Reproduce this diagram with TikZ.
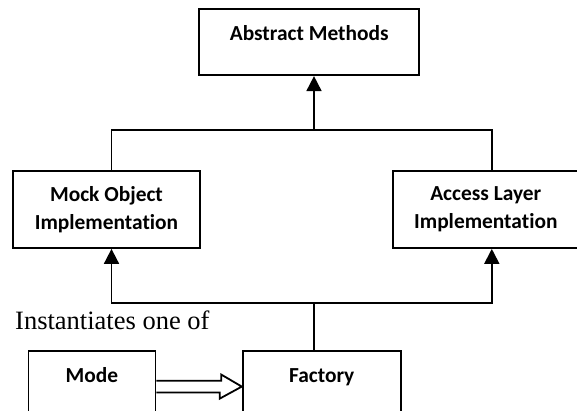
\documentclass[tikz,border=0pt]{standalone}
\usepackage{fontspec}
\setmainfont{Liberation Serif}
\newfontfamily\calibri[Ligatures=NoCommon]{Carlito}
\usetikzlibrary{arrows.meta,positioning,calc}
\tikzset{box/.style={draw,line width=1.8pt,inner sep=0pt,align=center,font=\calibri\bfseries\fontsize{21.4}{28.3}\selectfont},line/.style={line width=1.8pt},arr/.style={-{Triangle[length=15pt,width=15pt]},line width=1.8pt},lab/.style={inner sep=0pt,font=\fontsize{26.5}{30}\selectfont}}

\begin{document}
\begin{tikzpicture}[x=1pt,y=1pt]
\path[use as bounding box,clip] (0,0) rectangle (577,411);
\node[box,minimum width=220pt,minimum height=66pt,text height=15pt,text depth=19pt] (abstract) at (309.2,368.8) {Abstract Methods};
\node[box,minimum width=187pt,minimum height=77pt] (mock) at (106.5,201.5) {Mock Object\\Implementation};
\node[box,minimum width=185pt,minimum height=77pt,right=191.5pt of mock] (access) {Access Layer\\Implementation};
\node[box,minimum width=158pt,minimum height=80pt,text height=15pt,text depth=32.6pt,anchor=north] (factory) at (321.7,60.5) {Factory};
\node[box,minimum width=127pt,minimum height=80pt,text height=15pt,text depth=32.6pt,left=85.5pt of factory] (mode) {Mode};
\node[lab,anchor=base west] (inst) at (15,81.7) {Instantiates one of};
\coordinate (top) at (314,281);
\coordinate (fork) at (314.3,107.7);
\draw[arr] (top) -- (top |- abstract.south);
\draw[line] ([xshift=5pt]mock.north) |- ([xshift=6pt]access.north |- top) -- ([xshift=6pt]access.north);
\draw[line] (fork |- factory.north) -- (fork);
\draw[arr] (fork) -| ([xshift=5pt]mock.south);
\draw[arr] (fork) -| ([xshift=6pt]access.south);
% hollow block arrow
\coordinate (ax) at ($(mode.east)+(0,4.8)$);
\draw[line,line join=miter] ($(ax)+(0,5.9)$) -- ++(65,0) -- ++(0,6.1) -- (ax -| factory.west) -- ++(-22,-12) -- ++(0,6.1) -- ($(ax)+(0,-5.9)$);
\end{tikzpicture}
\end{document}
